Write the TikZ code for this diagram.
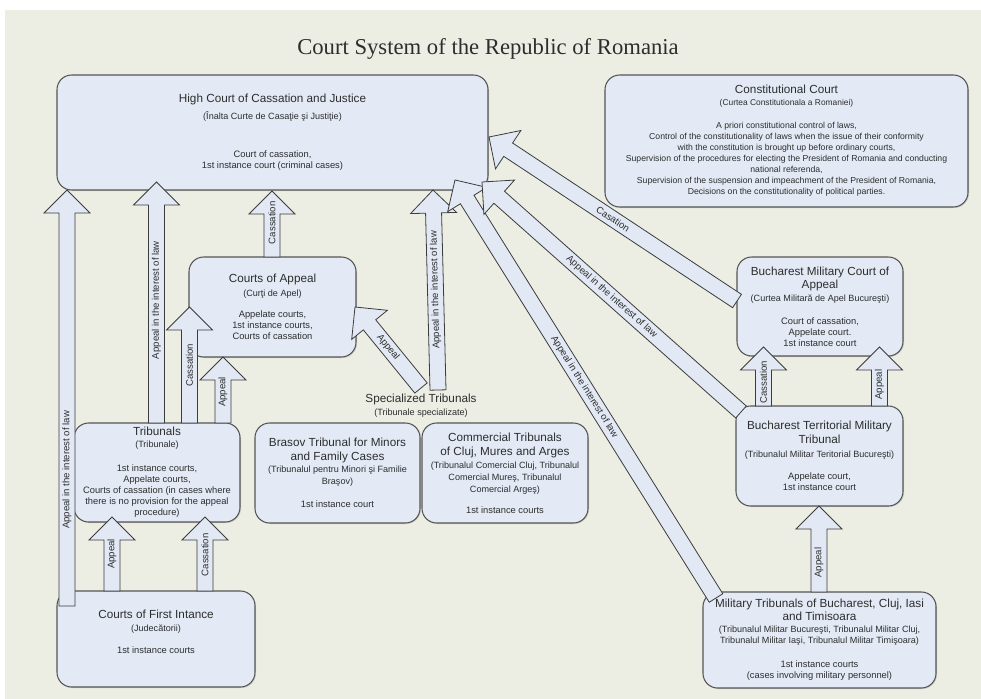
\documentclass[tikz,border=0pt]{standalone}
\usepackage{fontspec}
\setmainfont{Liberation Sans}
\newfontfamily\titlefont{Liberation Serif}
\usetikzlibrary{calc,shadows}
\definecolor{bg}{RGB}{236,237,227}
\definecolor{boxfill}{RGB}{227,234,245}
\definecolor{boxline}{RGB}{85,85,85}
\definecolor{arrfill}{RGB}{226,233,245}
\definecolor{arrline}{RGB}{60,60,60}
\definecolor{txt}{RGB}{45,45,45}
\newcommand\hdf{\fontsize{8.8}{10}\selectfont}
\newcommand\subf{\fontsize{6.8}{8}\selectfont}
\newcommand\bodyf{\fontsize{7}{8.25}\selectfont}
\newcommand\ccf{\fontsize{6.5}{8.25}\selectfont}
\AtBeginDocument{\lineskiplimit=-30pt\relax}
% #1 label options, #2 name, #3 tail, #4 tip, #5 label, #6 label position
\newcommand\blockarrow[6][]{%
  \coordinate (#2-h) at ($(#4)!17.25pt!(#3)$);
  \draw[barrow] ($(#3)!6pt!90:(#4)$) -- ($(#2-h)!6pt!90:(#4)$) -- ($(#2-h)!17.25pt!90:(#4)$) -- (#4) -- ($(#2-h)!17.25pt!-90:(#4)$) -- ($(#2-h)!6pt!-90:(#4)$) -- ($(#3)!6pt!-90:(#4)$) -- cycle;
  \path (#3) -- (#4) node[alabel,pos=#6,sloped,#1] (#2-l) {#5};
}
\begin{document}
\begin{tikzpicture}[x=0.75pt,y=-0.75pt,
  box/.style={draw=boxline, line width=0.8pt, fill=boxfill, rounded corners=11pt, inner sep=0pt, outer sep=0pt, align=center, text=txt,
    font=\bodyf,
    drop shadow={opacity=0.25, shadow xshift=0.8pt, shadow yshift=-0.8pt}},
  bsize/.style 2 args={minimum width=#1*0.75pt, minimum height=#2*0.75pt},
  barrow/.style={draw=arrline, line width=0.6pt, fill=arrfill, line join=miter},
  alabel/.style={font=\fontsize{7.2}{8}\selectfont, text=txt, inner sep=0pt},
]
\useasboundingbox (0,0) rectangle (981,699);
\fill[white] (0,0) rectangle (981,699);
\fill[bg] (5,10) rectangle (981,699);

\node[font=\titlefont\fontsize{17}{20}\selectfont, text=txt] (title) at (488,49) {Court System of the Republic of Romania};

\node[box,bsize={431}{115}] (hc) at (272.5,132.5) {{\hdf High Court of Cassation and Justice}\\[4.5pt]{\subf (Înalta Curte de Casaţie şi Justiţie)}\\[20.25pt]Court of cassation,\\1st instance court (criminal cases)};

\node[box,bsize={363}{132},font=\ccf] (cc) at (786.5,141) {{\hdf Constitutional Court}\\[0.75pt]{\fontsize{6.3}{8}\selectfont (Curtea Constitutionala a Romaniei)}\\[9pt]A priori constitutional control of laws,\\Control of the constitutionality of laws when the issue of their conformity\\with the constitution is brought up before ordinary courts,\\Supervision of the procedures for electing the President of Romania and conducting\\national referenda,\\Supervision of the suspension and impeachment of the President of Romania,\\Decisions on the constitutionality of political parties.};

\node[box,bsize={167}{100}] (coa) at (272.5,307) {{\hdf Courts of Appeal}\\[2.25pt]{\subf (Curţi de Apel)}\\[7.5pt]Appelate courts,\\1st instance courts,\\Courts of cassation};

\node[box,bsize={166}{99}] (tb) at (157,472.5) {{\hdf Tribunals}\\[0.75pt]{\subf (Tribunale)}\\[10pt]1st instance courts,\\Appelate courts,\\Courts of cassation (in cases where\\there is no provision for the appeal\\procedure)};

\node[box,bsize={198}{96}] (fi) at (156,639) {{\hdf Courts of First Intance}\\[1.5pt]{\subf (Judecătorii)}\\[8.25pt]1st instance courts\\[2.25pt]\mbox{}};

\node[align=center, text=txt, inner sep=0pt, font=\bodyf] (st) at (421,406) {{\hdf Specialized Tribunals}\\[1.5pt]{\subf (Tribunale specializate)}};

\node[box,bsize={165}{100}] (br) at (337.5,473) {{\hdf Brasov Tribunal for Minors}\\[2.25pt]{\hdf and Family Cases}\\[0.75pt]{\subf (Tribunalul pentru Minori şi Familie}\\[0.75pt]{\subf Braşov)}\\[9pt]1st instance court};

\node[box,bsize={166}{100}] (cm) at (505,473) {{\hdf Commercial Tribunals}\\[2.25pt]{\hdf of Cluj, Mures and Arges}\\[1.5pt]{\subf (Tribunalul Comercial Cluj, Tribunalul}\\[0.75pt]{\subf Comercial Mureş, Tribunalul}\\[0.75pt]{\subf Comercial Argeş)}\\[7.5pt]1st instance courts};

\node[box,bsize={166}{99}] (bmca) at (820,306.5) {{\hdf Bucharest Military Court of}\\[1.5pt]{\hdf Appeal}\\[1.5pt]{\subf (Curtea Militară de Apel Bucureşti)}\\[9pt]Court of cassation,\\Appelate court.\\1st instance court};

\node[box,bsize={167}{100}] (tt) at (819.5,456) {{\hdf Bucharest Territorial Military}\\[2.25pt]{\hdf Tribunal}\\[2.25pt]{\subf (Tribunalul Militar Teritorial Bucureşti)}\\[8.25pt]Appelate court,\\1st instance court};

\node[box,bsize={233}{96}] (mt) at (819.5,640) {{\hdf Military Tribunals of Bucharest, Cluj, Iasi}\\[1.5pt]{\hdf and Timisoara}\\[0.5pt]{\subf (Tribunalul Militar Bucureşti, Tribunalul Militar Cluj,}\\{\subf Tribunalul Militar Iaşi, Tribunalul Militar Timişoara)}\\[9.75pt]1st instance courts\\(cases involving military personnel)};

% connector end points
\coordinate (a1t) at (67,606);   \coordinate (a1h) at (67,190);
\coordinate (a2t) at (156.5,423); \coordinate (a2h) at (156.5,182);
\coordinate (a3t) at (189.5,423); \coordinate (a3h) at (189.5,307);
\coordinate (a4t) at (223,423);   \coordinate (a4h) at (223,357);
\coordinate (a5t) at (272,257);   \coordinate (a5h) at (272,191);
\coordinate (a6t) at (421,388);   \coordinate (a6h) at (355,307);
\coordinate (a7t) at (438,390);   \coordinate (a7h) at (433,190);
\coordinate (a8t) at (716,598);   \coordinate (a8h) at (455,180);
\coordinate (a9t) at (741,412);   \coordinate (a9h) at (482,182);
\coordinate (a10t) at (737,301);  \coordinate (a10h) at (489,137);
\coordinate (a11t) at (763.5,406); \coordinate (a11h) at (763.5,347);
\coordinate (a12t) at (879.5,406); \coordinate (a12h) at (879.5,347);
\coordinate (a13t) at (819,592);  \coordinate (a13h) at (819,506);
\coordinate (a14t) at (112,591);  \coordinate (a14h) at (112,517);
\coordinate (a15t) at (205,591);  \coordinate (a15h) at (205,517);

\blockarrow{a1}{a1t}{a1h}{Appeal in the interest of law}{0.327}
\blockarrow{a2}{a2t}{a2h}{Appeal in the interest of law}{0.51}
\blockarrow{a3}{a3t}{a3h}{Cassation}{0.5}
\blockarrow{a4}{a4t}{a4h}{Appeal}{0.47}
\blockarrow{a5}{a5t}{a5h}{Cassation}{0.52}
\blockarrow{a6}{a6t}{a6h}{Appeal}{0.5}
\blockarrow[allow upside down]{a7}{a7t}{a7h}{Appeal in the interest of law}{0.5}
\blockarrow{a8}{a8t}{a8h}{Appeal in the interest of law}{0.505}
\blockarrow{a9}{a9t}{a9h}{Appeal in the interest of law}{0.5}
\blockarrow{a10}{a10t}{a10h}{Casation}{0.5}
\blockarrow{a11}{a11t}{a11h}{Cassation}{0.4}
\blockarrow{a12}{a12t}{a12h}{Appeal}{0.36}
\blockarrow{a13}{a13t}{a13h}{Appeal}{0.34}
\blockarrow{a14}{a14t}{a14h}{Appeal}{0.5}
\blockarrow{a15}{a15t}{a15h}{Cassation}{0.49}
\end{tikzpicture}
\end{document}
